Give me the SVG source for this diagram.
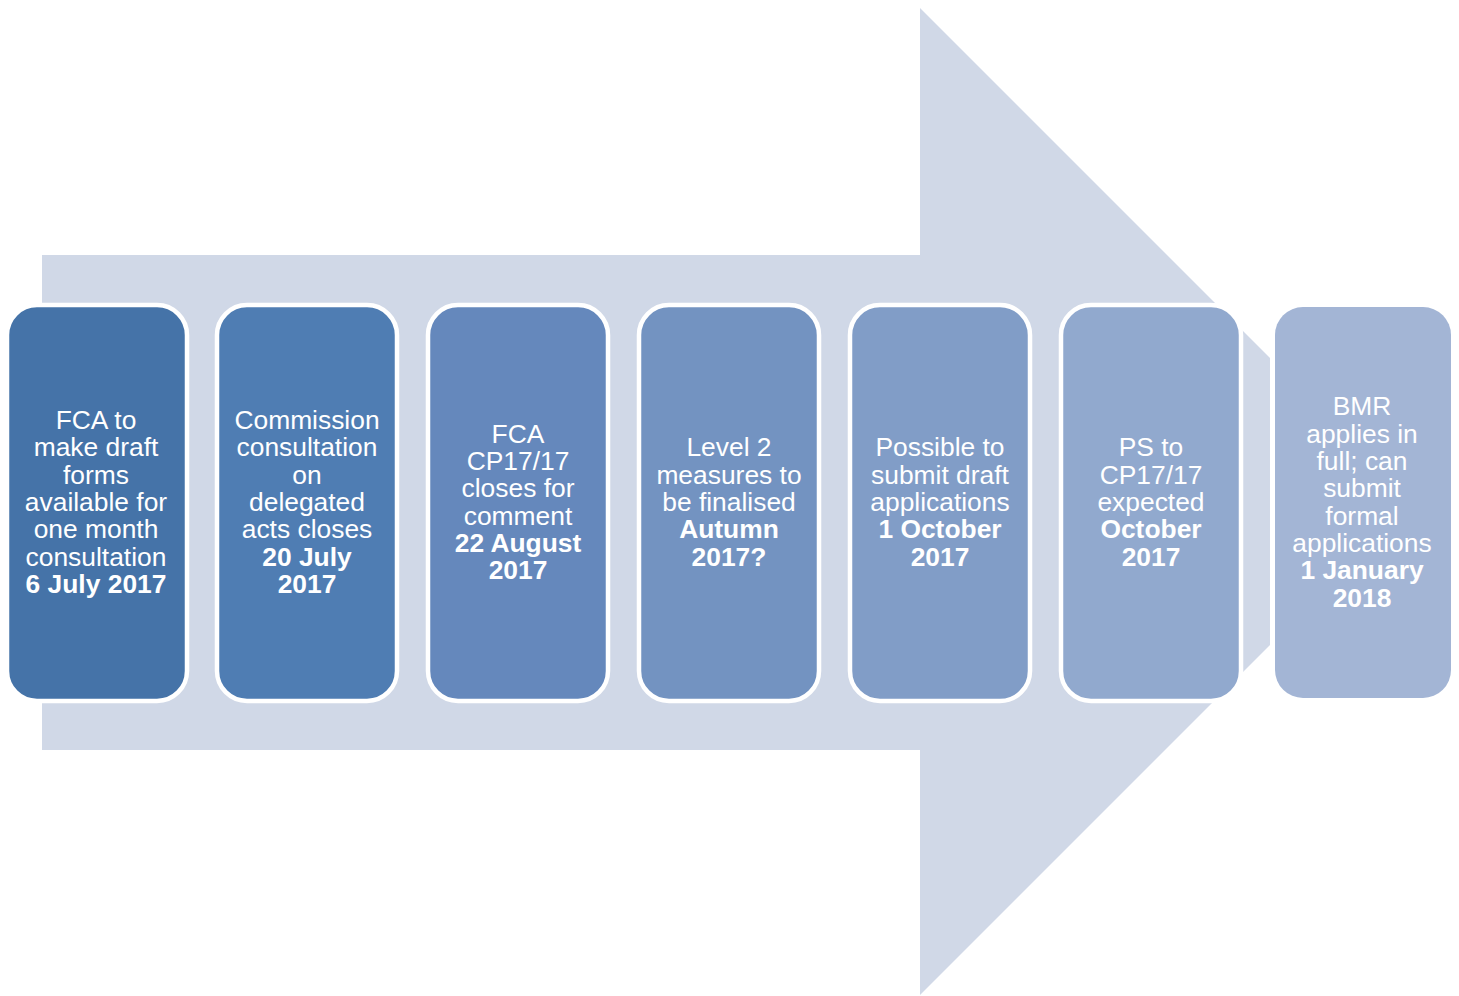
<svg xmlns="http://www.w3.org/2000/svg" width="1459" height="996" viewBox="0 0 1459 996">
<style>
.box{stroke:#FFFFFF;stroke-width:4.5}
text{font-family:"Liberation Sans",Arial,sans-serif;font-size:26.4px;fill:#FFFFFF;text-anchor:middle}
.b{font-weight:bold}
</style>
<rect width="1459" height="996" fill="#FFFFFF"/>
<g id="connectors">
<polygon points="42,255 920,255 920,8 1270,358 1270,645 920,995 920,750 42,750" fill="#D0D8E7"/>
</g>
<g id="n1">
<rect class="box" x="7" y="305" width="180" height="396" rx="30" fill="#4573A8"/>
<text x="96" y="429">FCA to</text>
<text x="96" y="456.4">make draft</text>
<text x="96" y="483.7">forms</text>
<text x="96" y="511">available for</text>
<text x="96" y="538.4">one month</text>
<text x="96" y="565.7">consultation</text>
<text class="b" x="96" y="593">6 July 2017</text>
</g>
<g id="n2">
<rect class="box" x="217" y="305" width="180" height="396" rx="30" fill="#4F7DB3"/>
<text x="307" y="429">Commission</text>
<text x="307" y="456.4">consultation</text>
<text x="307" y="483.7">on</text>
<text x="307" y="511">delegated</text>
<text x="307" y="538.4">acts closes</text>
<text class="b" x="307" y="565.7">20 July</text>
<text class="b" x="307" y="593">2017</text>
</g>
<g id="n3">
<rect class="box" x="428" y="305" width="180" height="396" rx="30" fill="#6588BC"/>
<text x="518" y="442.6">FCA</text>
<text x="518" y="470">CP17/17</text>
<text x="518" y="497.3">closes for</text>
<text x="518" y="524.7">comment</text>
<text class="b" x="518" y="552">22 August</text>
<text class="b" x="518" y="579.4">2017</text>
</g>
<g id="n4">
<rect class="box" x="639" y="305" width="180" height="396" rx="30" fill="#7393C1"/>
<text x="729" y="456.3">Level 2</text>
<text x="729" y="483.7">measures to</text>
<text x="729" y="511">be finalised</text>
<text class="b" x="729" y="538.4">Autumn</text>
<text class="b" x="729" y="565.7">2017?</text>
</g>
<g id="n5">
<rect class="box" x="850" y="305" width="180" height="396" rx="30" fill="#819DC7"/>
<text x="940" y="456.3">Possible to</text>
<text x="940" y="483.7">submit draft</text>
<text x="940" y="511">applications</text>
<text class="b" x="940" y="538.4">1 October</text>
<text class="b" x="940" y="565.7">2017</text>
</g>
<g id="n6">
<rect class="box" x="1061" y="305" width="180" height="396" rx="30" fill="#91A9CE"/>
<text x="1151" y="456.3">PS to</text>
<text x="1151" y="483.7">CP17/17</text>
<text x="1151" y="511">expected</text>
<text class="b" x="1151" y="538.4">October</text>
<text class="b" x="1151" y="565.7">2017</text>
</g>
<g id="n7">
<rect x="1275" y="307" width="176" height="391" rx="28" fill="#A3B5D5"/>
<text x="1362" y="415.3">BMR</text>
<text x="1362" y="442.6">applies in</text>
<text x="1362" y="470">full; can</text>
<text x="1362" y="497.3">submit</text>
<text x="1362" y="524.7">formal</text>
<text x="1362" y="552">applications</text>
<text class="b" x="1362" y="579.4">1 January</text>
<text class="b" x="1362" y="606.7">2018</text>
</g>
</svg>
